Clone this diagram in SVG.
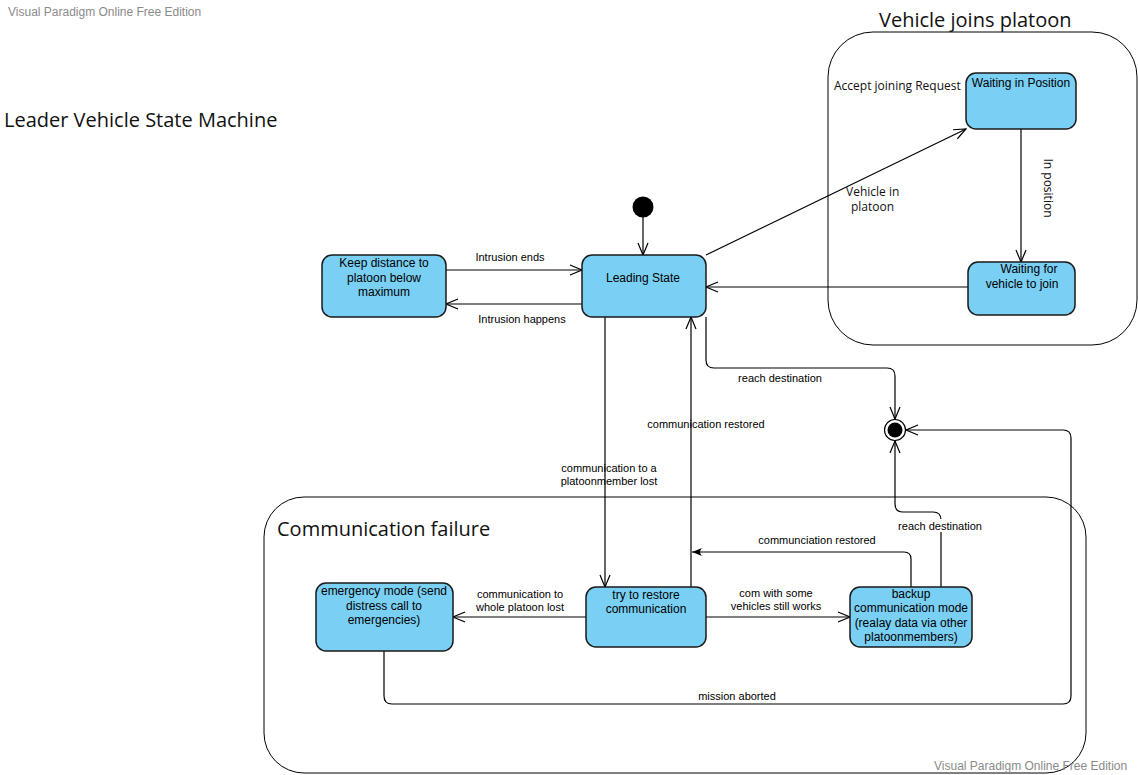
<svg xmlns="http://www.w3.org/2000/svg" width="1138" height="775" viewBox="0 0 1138 775">
<style>
.node{fill:#7acff5;stroke:#1a1a1a;stroke-width:1.5}
.cont{fill:none;stroke:#000;stroke-width:1}
.nt{font-family:"Liberation Sans",Arial,sans-serif;font-size:12px;fill:#000;text-anchor:middle}
.lt{font-family:"Liberation Sans",Arial,sans-serif;font-size:11px;fill:#000;text-anchor:middle}
.ot{font-family:"Open Sans","Noto Sans",sans-serif;font-size:12px;fill:#111}
.tt{font-family:"Open Sans","Noto Sans",sans-serif;font-size:20px;fill:#111}
.wm{font-family:"Liberation Sans",Arial,sans-serif;font-size:12px;fill:#8a8a8a}
.c{fill:none;stroke:#000;stroke-width:1.2}
</style>
<defs>
<marker id="open" viewBox="0 0 14 12" refX="13" refY="6" markerWidth="14" markerHeight="12" orient="auto" markerUnits="userSpaceOnUse">
<path d="M1,1 L13,6 L1,11" fill="none" stroke="#000" stroke-width="1.2"/>
</marker>
<marker id="fill" viewBox="0 0 10 8" refX="10" refY="4" markerWidth="10" markerHeight="8" orient="auto" markerUnits="userSpaceOnUse">
<path d="M0,0 Q4,4 0,8 L10,4 z" fill="#000"/>
</marker>
</defs>
<rect width="1138" height="775" fill="#fff"/>
<text class="wm" x="8" y="16">Visual Paradigm Online Free Edition</text>
<text class="tt" x="4" y="127">Leader Vehicle State Machine</text>

<g id="vehicle-joins-platoon">
<rect class="cont" x="828" y="32" width="309" height="313" rx="45"/>
<text class="tt" x="879" y="27">Vehicle joins platoon</text>
<text class="ot" x="834" y="90">Accept joining Request</text>
</g>

<g id="communication-failure">
<rect class="cont" x="264" y="497" width="822" height="276" rx="40"/>
<text class="tt" x="277" y="536">Communication failure</text>
</g>

<g id="connectors">
<path class="c" d="M643,217 L643,255" marker-end="url(#open)"/>
<path class="c" d="M446,270 L582,270" marker-end="url(#open)"/>
<path class="c" d="M582,304 L446,304" marker-end="url(#open)"/>
<path class="c" d="M706,255 L966,129" marker-end="url(#open)"/>
<path class="c" d="M1021,129 L1021,262" marker-end="url(#open)"/>
<path class="c" d="M968,287 L706,287" marker-end="url(#open)"/>
<path class="c" d="M706,317 L706,360 Q706,368 714,368 L887,368 Q895,368 895,376 L895,419" marker-end="url(#open)"/>
<path class="c" d="M605,317 L605,587" marker-end="url(#open)"/>
<path class="c" d="M691,587 L691,317" marker-end="url(#open)"/>
<path class="c" d="M586,617 L453,617" marker-end="url(#open)"/>
<path class="c" d="M706,617 L850,617" marker-end="url(#open)"/>
<path class="c" d="M911,587 L911,559 Q911,552 904,552 L692,552" marker-end="url(#fill)"/>
<path class="c" d="M941,587 L941,520 Q941,512 933,512 L903,512 Q895,512 895,504 L895,441" marker-end="url(#open)"/>
<path class="c" d="M384,651 L384,696 Q384,704 392,704 L1063,704 Q1071,704 1071,696 L1071,438 Q1071,430 1063,430 L906,430" marker-end="url(#open)"/>
<text class="lt" x="510" y="261">Intrusion ends</text>
<text class="lt" x="522" y="323">Intrusion happens</text>
<text class="ot" x="846" y="196">Vehicle in</text>
<text class="ot" x="851" y="211">platoon</text>
<text class="ot" transform="translate(1044,188) rotate(90)" text-anchor="middle">In position</text>
<text class="lt" x="780" y="382">reach destination</text>
<text class="lt" x="706" y="428">communication restored</text>
<text class="lt" x="609" y="472">communication to a</text>
<text class="lt" x="609" y="485">platoonmember lost</text>
<text class="lt" x="520" y="598">communication to</text>
<text class="lt" x="520" y="611">whole platoon lost</text>
<text class="lt" x="776" y="597">com with some</text>
<text class="lt" x="776" y="610">vehicles still works</text>
<text class="lt" x="817" y="544">communciation restored</text>
<rect x="898" y="519" width="86" height="13" fill="#fff"/>
<text class="lt" x="940" y="530">reach destination</text>
<text class="lt" x="737" y="700">mission aborted</text>
</g>

<g id="initial-state">
<circle cx="643" cy="207" r="10.5" fill="#000"/>
</g>

<g id="final-state">
<circle cx="895" cy="430" r="10.5" fill="#fff" stroke="#000" stroke-width="1.2"/>
<circle cx="895" cy="430" r="7.5" fill="#000"/>
</g>

<g id="keep-distance">
<rect class="node" x="322" y="255" width="124" height="62" rx="10"/>
<text class="nt" x="384" y="267">Keep distance to</text>
<text class="nt" x="384" y="282">platoon below</text>
<text class="nt" x="384" y="296">maximum</text>
</g>

<g id="leading-state">
<rect class="node" x="582" y="255" width="124" height="62" rx="10"/>
<text class="nt" x="643" y="282">Leading State</text>
</g>

<g id="waiting-in-position">
<rect class="node" x="966" y="73" width="110" height="56" rx="10"/>
<text class="nt" x="1021" y="87">Waiting in Position</text>
</g>

<g id="waiting-for-vehicle">
<rect class="node" x="968" y="262" width="107" height="53" rx="10"/>
<text class="nt" x="1029" y="273">Waiting for</text>
<text class="nt" x="1022" y="288">vehicle to join</text>
</g>

<g id="emergency-mode">
<rect class="node" x="316" y="583" width="137" height="68" rx="10"/>
<text class="nt" x="384" y="595">emergency mode (send</text>
<text class="nt" x="384" y="610">distress call to</text>
<text class="nt" x="384" y="624">emergencies)</text>
</g>

<g id="try-to-restore">
<rect class="node" x="586" y="587" width="120" height="60" rx="10"/>
<text class="nt" x="646" y="599">try to restore</text>
<text class="nt" x="646" y="613">communication</text>
</g>

<g id="backup-communication">
<rect class="node" x="850" y="587" width="122" height="60" rx="10"/>
<text class="nt" x="911" y="598">backup</text>
<text class="nt" x="911" y="612">communication mode</text>
<text class="nt" x="911" y="627">(realay data via other</text>
<text class="nt" x="911" y="641">platoonmembers)</text>
</g>

<text class="wm" x="934" y="770">Visual Paradigm Online Free Edition</text>
</svg>
